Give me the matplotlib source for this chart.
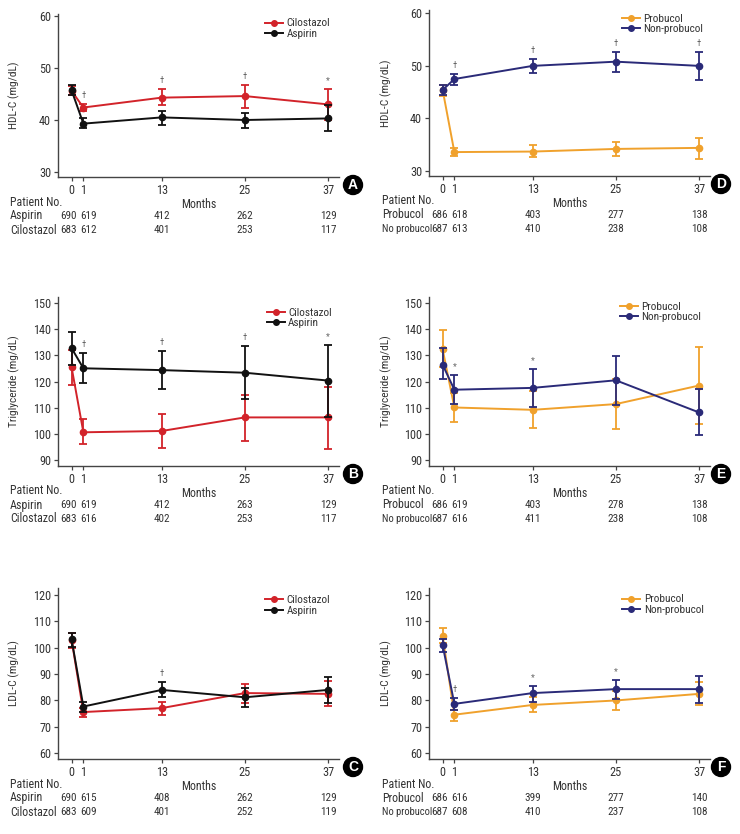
import matplotlib
matplotlib.use("Agg")
import matplotlib.pyplot as plt
from matplotlib.lines import Line2D
from matplotlib import font_manager

_avail = {f.name for f in font_manager.fontManager.ttflist}
_cands = ['Liberation Sans Narrow', 'Roboto Condensed', 'Arial Narrow', 'DejaVu Sans Condensed',
          'Liberation Sans']
FAMILY = [f for f in _cands if f in _avail] + ['DejaVu Sans']
plt.rcParams['font.family'] = FAMILY

# ---------------- data ----------------
months = [0, 1, 13, 25, 37]
month_labels = ["0", "1", "13", "25", "37"]
# positions of the visits along the drawn time axis (month 1 drawn slightly apart from baseline)
visit_x = [0, 1.7, 13, 25, 37]

# HDL-C
hdl_cilo = [45.6, 42.4, 44.3, 44.6, 43.0]
hdl_cilo_lo = [44.8, 41.7, 42.8, 42.4, 40.0]
hdl_cilo_hi = [46.5, 43.1, 45.9, 46.7, 46.0]
hdl_asp = [45.7, 39.3, 40.5, 40.0, 40.3]
hdl_asp_lo = [44.8, 38.4, 39.0, 38.4, 37.8]
hdl_asp_hi = [46.7, 40.3, 41.7, 41.4, 42.8]
hdl_prob = [45.5, 33.6, 33.7, 34.2, 34.4]
hdl_prob_lo = [44.3, 32.9, 32.6, 32.8, 32.2]
hdl_prob_hi = [46.4, 34.4, 34.9, 35.5, 36.2]
hdl_nonprob = [45.4, 47.5, 50.0, 50.8, 50.0]
hdl_nonprob_lo = [44.5, 46.4, 48.7, 48.9, 47.4]
hdl_nonprob_hi = [46.4, 48.4, 51.3, 52.6, 52.6]

# Triglyceride
tg_cilo = [125.5, 100.6, 101.1, 106.3, 106.3]
tg_cilo_lo = [118.7, 96.0, 94.7, 97.4, 94.2]
tg_cilo_hi = [132.0, 105.6, 107.5, 114.9, 118.1]
tg_asp = [132.8, 125.1, 124.4, 123.4, 120.4]
tg_asp_lo = [126.4, 119.4, 117.1, 113.2, 106.6]
tg_asp_hi = [139.1, 131.1, 131.9, 133.8, 134.0]
tg_prob = [132.5, 110.1, 109.2, 111.4, 118.5]
tg_prob_lo = [125.5, 104.4, 102.1, 101.7, 103.8]
tg_prob_hi = [139.7, 115.6, 116.3, 121.0, 133.3]
tg_nonprob = [126.5, 116.9, 117.6, 120.5, 108.2]
tg_nonprob_lo = [121.0, 111.4, 110.1, 111.2, 99.4]
tg_nonprob_hi = [132.7, 122.4, 124.9, 129.9, 117.2]

# LDL-C
ldl_cilo = [103.0, 75.6, 77.1, 82.8, 82.5]
ldl_cilo_lo = [100.0, 73.7, 74.3, 79.0, 78.0]
ldl_cilo_hi = [105.7, 77.3, 79.6, 86.2, 87.2]
ldl_asp = [103.2, 77.7, 84.0, 81.2, 84.0]
ldl_asp_lo = [100.4, 75.8, 81.2, 77.5, 78.9]
ldl_asp_hi = [105.7, 79.6, 86.9, 84.6, 88.8]
ldl_prob = [104.6, 74.6, 78.3, 80.0, 82.5]
ldl_prob_lo = [101.9, 72.4, 75.6, 76.2, 78.3]
ldl_prob_hi = [107.4, 76.2, 81.2, 83.4, 86.9]
ldl_nonprob = [101.1, 78.7, 82.8, 84.3, 84.3]
ldl_nonprob_lo = [98.5, 76.2, 79.6, 80.5, 79.0]
ldl_nonprob_hi = [103.3, 81.1, 85.3, 87.8, 89.1]

# significance marks
sig_A = ["", "\u2020", "\u2020", "\u2020", "*"]
sig_B = ["", "\u2020", "\u2020", "\u2020", "*"]
sig_C = ["", "", "\u2020", "", ""]
sig_D = ["", "\u2020", "\u2020", "\u2020", "\u2020"]
sig_E = ["", "*", "*", "", ""]
sig_F = ["", "\u2020", "*", "*", ""]

# patient numbers
n_A_asp = [690, 619, 412, 262, 129]
n_A_cilo = [683, 612, 401, 253, 117]
n_B_asp = [690, 619, 412, 263, 129]
n_B_cilo = [683, 616, 402, 253, 117]
n_C_asp = [690, 615, 408, 262, 129]
n_C_cilo = [683, 609, 401, 252, 119]
n_D_prob = [686, 618, 403, 277, 138]
n_D_noprob = [687, 613, 410, 238, 108]
n_E_prob = [686, 619, 403, 278, 138]
n_E_noprob = [687, 616, 411, 238, 108]
n_F_prob = [686, 616, 399, 277, 140]
n_F_noprob = [687, 608, 410, 237, 108]

# ---------------- style ----------------
RED = "#d2232a"
BLACK = "#111111"
ORANGE = "#f0a12c"
NAVY = "#2a2a78"
AXC = "#444444"
TXT = "#333333"
FS = 8.0

W, H = 740, 834
fig = plt.figure(figsize=(W / 100, H / 100), dpi=100)
PT = 0.72  # points per pixel at 100 dpi


def px_axes(left, top, right, bottom):
    return fig.add_axes([left / W, 1 - bottom / H, (right - left) / W, (bottom - top) / H])


def panel(box, ylim, yticks, ylabel, s1, s2, sig, rows, letter, leg_px, ylabel_x):
    left, top, right, bottom = box
    ax = px_axes(*box)
    for (lab, col, m, lo, hi), z in ((s1, 3), (s2, 4)):
        yerr = [[a - b for a, b in zip(m, lo)], [b - a for a, b in zip(m, hi)]]
        ax.errorbar(visit_x, m, yerr=yerr, fmt='none', ecolor=col, elinewidth=1.3,
                    capsize=3.2, capthick=1.3, zorder=z)
        ax.plot(visit_x, m, color=col, lw=1.4, marker='o', ms=4.5, zorder=z + 0.5)
    handles = [Line2D([], [], color=s1[1], lw=1.4, marker='o', ms=4),
               Line2D([], [], color=s2[1], lw=1.4, marker='o', ms=4)]
    lx = (leg_px[0] - left) / (right - left)
    ly = 1 - (leg_px[1] - 5.5 - top) / (bottom - top)
    ax.legend(handles, [s1[0], s2[0]], loc='upper left', bbox_to_anchor=(lx, ly),
              frameon=False, fontsize=FS + 0.1, handlelength=1.6, handletextpad=0.3,
              labelspacing=0.05, borderpad=0, borderaxespad=0, numpoints=1,
              labelcolor=TXT)
    for i, s in enumerate(sig):
        if s:
            up = max(s1[4][i], s2[4][i])
            ax.annotate(s, xy=(visit_x[i], up), xytext=(0, 6), textcoords='offset points',
                        ha='center', va='center', fontsize=6.5, color='#666666')
    ax.set_xlim(-1.96, 38.58)
    ax.set_ylim(*ylim)
    ax.set_yticks(yticks)
    ax.set_xticks(visit_x)
    ax.set_xticklabels(month_labels)
    for sp in ('top', 'right'):
        ax.spines[sp].set_visible(False)
    for sp in ('left', 'bottom'):
        ax.spines[sp].set_color(AXC)
        ax.spines[sp].set_linewidth(1.0)
    ax.tick_params(direction='out', length=3, width=0.9, color=AXC, labelsize=FS + 0.8,
                   labelcolor=TXT, pad=2)
    ax.set_ylabel(ylabel, fontsize=FS + 0.2, color=TXT)
    ax.yaxis.set_label_coords(ylabel_x, 0.5)
    ax.set_xlabel("Months", fontsize=FS + 0.6, color=TXT, labelpad=1)

    row_x = left - 48 if left < 370 else left - 47
    ax.annotate("Patient No.", xy=(row_x / W, 0), xycoords=('figure fraction', 'axes fraction'),
                xytext=(0, -25 * PT), textcoords='offset points', ha='left', va='center',
                fontsize=FS + 0.6, color=TXT)
    num_dx = [-3 * PT, 5 * PT, 0, 0, 0]
    for r, (name, counts) in enumerate(rows):
        dy = -(39 + 14 * r) * PT
        ax.annotate(name, xy=(row_x / W, 0), xycoords=('figure fraction', 'axes fraction'),
                    xytext=(0, dy), textcoords='offset points', ha='left', va='center',
                    fontsize=FS + (0.6 if name != "No probucol" else -0.4), color=TXT)
        for i, c in enumerate(counts):
            ax.annotate(str(c), xy=(visit_x[i], 0), xycoords=('data', 'axes fraction'),
                        xytext=(num_dx[i], dy), textcoords='offset points', ha='center',
                        va='center', fontsize=FS, color=TXT)
    cx = right + (14 if left < 370 else 11)
    cy = bottom + 8
    fig.text(cx / W, 1 - cy / H, letter, ha='center', va='center', color='white',
             fontsize=10, fontweight='bold', family=['Liberation Sans', 'DejaVu Sans'],
             bbox=dict(boxstyle='circle,pad=0.18', fc='black', ec='black'))
    return ax


# A
panel((58, 14, 339, 177), (29.04, 60.38), [30, 40, 50, 60], "HDL-C (mg/dL)",
      ("Cilostazol", RED, hdl_cilo, hdl_cilo_lo, hdl_cilo_hi),
      ("Aspirin", BLACK, hdl_asp, hdl_asp_lo, hdl_asp_hi),
      sig_A, [("Aspirin", n_A_asp), ("Cilostazol", n_A_cilo)], "A", (265, 24), -0.135)
# D
panel((429, 10, 710, 176), (29.05, 60.63), [30, 40, 50, 60], "HDL-C (mg/dL)",
      ("Probucol", ORANGE, hdl_prob, hdl_prob_lo, hdl_prob_hi),
      ("Non-probucol", NAVY, hdl_nonprob, hdl_nonprob_lo, hdl_nonprob_hi),
      sig_D, [("Probucol", n_D_prob), ("No probucol", n_D_noprob)], "D", (621.7, 19), -0.133)
# B
panel((58, 296.7, 339, 466), (87.7, 152.5), [90, 100, 110, 120, 130, 140, 150],
      "Triglyceride (mg/dL)",
      ("Cilostazol", RED, tg_cilo, tg_cilo_lo, tg_cilo_hi),
      ("Aspirin", BLACK, tg_asp, tg_asp_lo, tg_asp_hi),
      sig_B, [("Aspirin", n_B_asp), ("Cilostazol", n_B_cilo)], "B", (266.7, 313.3), -0.135)
# E
panel((429, 296.7, 710, 466), (87.7, 152.5), [90, 100, 110, 120, 130, 140, 150],
      "Triglyceride (mg/dL)",
      ("Probucol", ORANGE, tg_prob, tg_prob_lo, tg_prob_hi),
      ("Non-probucol", NAVY, tg_nonprob, tg_nonprob_lo, tg_nonprob_hi),
      sig_E, [("Probucol", n_E_prob), ("No probucol", n_E_noprob)], "E", (620, 307.3), -0.133)
# C
panel((58, 588, 339, 759), (57.8, 122.65), [60, 70, 80, 90, 100, 110, 120], "LDL-C (mg/dL)",
      ("Cilostazol", RED, ldl_cilo, ldl_cilo_lo, ldl_cilo_hi),
      ("Aspirin", BLACK, ldl_asp, ldl_asp_lo, ldl_asp_hi),
      sig_C, [("Aspirin", n_C_asp), ("Cilostazol", n_C_cilo)], "C", (265, 600.7), -0.135)
# F
panel((429, 588, 710, 759), (57.8, 122.65), [60, 70, 80, 90, 100, 110, 120], "LDL-C (mg/dL)",
      ("Probucol", ORANGE, ldl_prob, ldl_prob_lo, ldl_prob_hi),
      ("Non-probucol", NAVY, ldl_nonprob, ldl_nonprob_lo, ldl_nonprob_hi),
      sig_F, [("Probucol", n_F_prob), ("No probucol", n_F_noprob)], "F", (622.3, 600), -0.133)

fig.savefig("out.png", dpi=100)
